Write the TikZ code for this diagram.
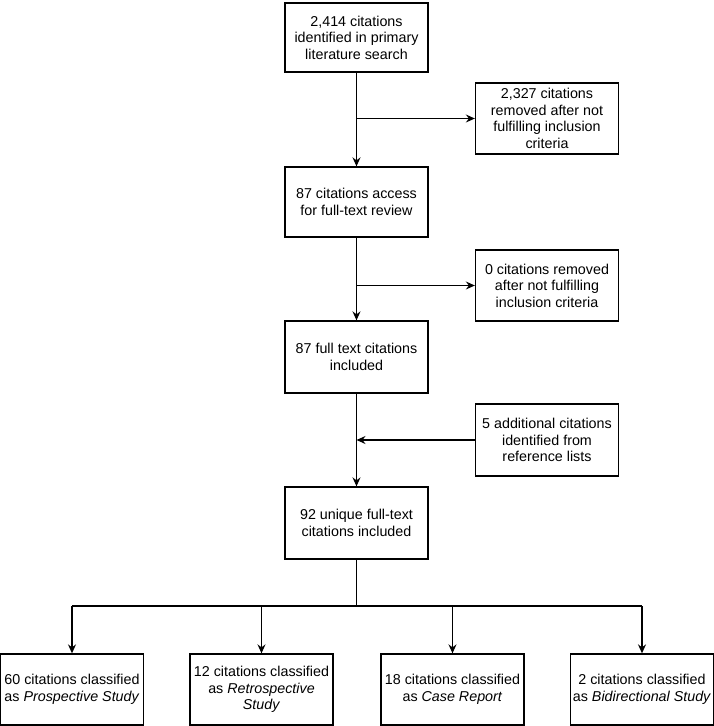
\documentclass[tikz,border=0pt]{standalone}
\usepackage{fontspec}
\setmainfont{Liberation Sans}
\usetikzlibrary{arrows.meta}
\begin{document}
\begin{tikzpicture}[x=1pt,y=-1pt,
  box/.style={draw=black,line width=1.3pt,rectangle,minimum width=143pt,minimum height=70pt,align=center,inner sep=1pt,font=\fontsize{14.3}{16.5}\selectfont,fill=white},
  conn/.style={line width=1.3pt},
  arr/.style={conn,-{Stealth[length=9pt,width=8pt,inset=3pt]}}]
\useasboundingbox (0,0) rectangle (714,726);
\node[box,minimum height=69pt] (b1) at (356.5,37.5) {2,414 citations\\identified in primary\\literature search};
\node[box,minimum height=71pt] (r1) at (547,118.5) {2,327 citations\\removed after not\\fulfilling inclusion\\criteria};
\node[box] (b2) at (356.5,202) {87 citations access\\for full-text review};
\node[box,minimum height=71pt] (r2) at (547,285.5) {0 citations removed\\after not fulfilling\\inclusion criteria};
\node[box,minimum height=72pt] (b3) at (356.5,357) {87 full text citations\\included};
\node[box,minimum height=72pt] (r3) at (547,440) {5 additional citations\\identified from\\reference lists};
\node[box,minimum height=72pt] (b4) at (356.5,523) {92 unique full-text\\citations included};
\node[box,minimum height=71pt] (c1) at (72,689.5) {60 citations classified\\as \textit{Prospective Study}};
\node[box,minimum height=71pt] (c2) at (261.5,689.5) {12 citations classified\\as \textit{Retrospective}\\\textit{Study}};
\node[box,minimum height=71pt] (c3) at (452.5,689.5) {18 citations classified\\as \textit{Case Report}};
\node[box,minimum height=71pt] (c4) at (642,689.5) {2 citations classified\\as \textit{Bidirectional Study}};
\coordinate (j1) at (356.5,118.5);
\coordinate (j2) at (356.5,285.5);
\coordinate (j3) at (356.5,440);
\coordinate (j4) at (356.5,606);
\draw[arr] (b1) -- (b2);
\draw[arr] (j1) -- (r1);
\draw[arr] (b2) -- (b3);
\draw[arr] (j2) -- (r2);
\draw[arr] (b3) -- (b4);
\draw[arr] (r3) -- (j3);
\draw[conn] (b4) -- (j4);
\draw[conn] (c1.north |- j4) -- (c4.north |- j4);
\draw[arr] (c1.north |- j4) -- (c1);
\draw[arr] (c2.north |- j4) -- (c2);
\draw[arr] (c3.north |- j4) -- (c3);
\draw[arr] (c4.north |- j4) -- (c4);
\end{tikzpicture}
\end{document}
